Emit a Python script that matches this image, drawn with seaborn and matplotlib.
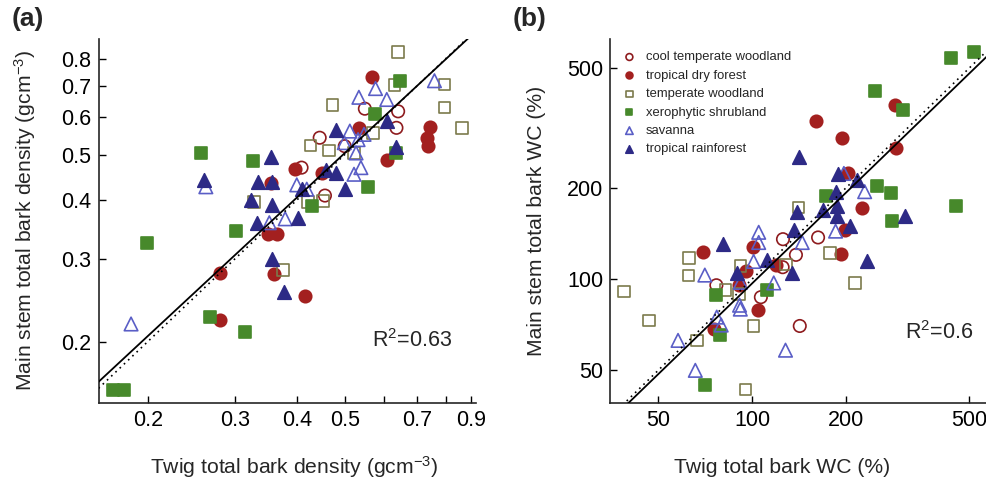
import numpy as np
import pandas as pd
import seaborn as sns
import matplotlib
matplotlib.use('Agg')
from matplotlib import pyplot as plt
from matplotlib.ticker import FixedLocator, FixedFormatter, NullLocator

biomes = ['cool temperate woodland', 'tropical dry forest', 'temperate woodland',
          'xerophytic shrubland', 'savanna', 'tropical rainforest']

'### (a) bark density (gcm-3): twig vs main stem ###'
dens_twig_ctw = [0.549, 0.641, 0.636, 0.445, 0.500, 0.409, 0.456]
dens_stem_ctw = [0.626, 0.618, 0.570, 0.543, 0.521, 0.469, 0.409]
dens_twig_tdf = [0.568, 0.534, 0.743, 0.732, 0.735, 0.608, 0.397, 0.449, 0.354, 0.350, 0.364, 0.360, 0.280, 0.280, 0.415]
dens_stem_tdf = [0.730, 0.570, 0.573, 0.541, 0.521, 0.488, 0.467, 0.457, 0.436, 0.338, 0.338, 0.278, 0.280, 0.222, 0.250]
dens_twig_tw = [0.641, 0.630, 0.795, 0.472, 0.795, 0.571, 0.863, 0.426, 0.465, 0.522, 0.422, 0.452, 0.328, 0.375]
dens_stem_tw = [0.826, 0.703, 0.705, 0.638, 0.630, 0.556, 0.570, 0.523, 0.510, 0.504, 0.396, 0.398, 0.396, 0.284]
dens_twig_xs = [0.648, 0.575, 0.636, 0.556, 0.430, 0.256, 0.326, 0.199, 0.302, 0.267, 0.314, 0.170, 0.179]
dens_stem_xs = [0.717, 0.611, 0.504, 0.427, 0.389, 0.503, 0.484, 0.324, 0.344, 0.226, 0.210, 0.158, 0.158]
dens_twig_sav = [0.759, 0.577, 0.534, 0.608, 0.512, 0.547, 0.532, 0.499, 0.527, 0.539, 0.522, 0.400, 0.419, 0.379, 0.262, 0.352, 0.185]
dens_stem_sav = [0.718, 0.691, 0.662, 0.655, 0.561, 0.552, 0.538, 0.530, 0.504, 0.469, 0.454, 0.431, 0.422, 0.365, 0.427, 0.358, 0.218]
dens_twig_trf = [0.608, 0.479, 0.634, 0.459, 0.481, 0.501, 0.409, 0.354, 0.260, 0.334, 0.357, 0.324, 0.356, 0.403, 0.332, 0.356, 0.377]
dens_stem_trf = [0.589, 0.563, 0.520, 0.463, 0.456, 0.422, 0.422, 0.493, 0.441, 0.438, 0.438, 0.401, 0.390, 0.366, 0.358, 0.299, 0.255]

'### (b) bark water content (%): twig vs main stem ###'
wc_twig_ctw = [125.8, 163.2, 138.5, 125.5, 76.8, 106.8, 142.5]
wc_stem_ctw = [135.7, 137.5, 120.4, 109.6, 95.5, 87.2, 70.0]
wc_twig_tdf = [161.3, 287.9, 195.3, 290.1, 204.2, 226.5, 198.6, 192.8, 100.8, 69.5, 119.8, 95.8, 90.8, 104.5, 75.7]
wc_stem_tdf = [333, 377, 292.5, 273, 224.5, 172, 145.4, 121, 128, 122.6, 111.8, 106.4, 95.5, 79.1, 68.2]
wc_twig_tw = [141.1, 178.1, 214.4, 128.7, 91.8, 62.8, 62.5, 82.1, 90.9, 38.7, 46.7, 101.2, 66.5, 95.4]
wc_stem_tw = [173, 122.4, 97.1, 111.8, 110.8, 117.4, 103, 92.2, 89.5, 91.1, 73, 69.9, 62.6, 43.1]
wc_twig_xs = [436.5, 516.5, 248.2, 305.6, 251.9, 279.5, 172.5, 453, 283, 111.7, 76.8, 79.1, 70.6]
wc_stem_xs = [539.5, 566, 420.5, 364, 204, 193, 189, 175, 156, 92.2, 88.7, 65.3, 44.7]
wc_twig_sav = [197.6, 230.5, 185.8, 145.1, 105.1, 105.1, 101.2, 117.5, 70.5, 91.7, 91.2, 91.7, 77.0, 79.6, 57.8, 128.2, 65.7]
wc_stem_sav = [224, 195, 144.3, 132.3, 143, 132.3, 114.5, 97.2, 103.2, 97.6, 82, 79.6, 74.9, 70.5, 62.7, 58.2, 49.9]
wc_twig_trf = [141.9, 189, 217.2, 185.8, 187.8, 187.8, 169.3, 206.1, 233.9, 310.1, 139.8, 136.7, 134.7, 111.5, 89.8, 80.6]
wc_stem_trf = [254, 223, 213, 195, 175, 162, 170, 150, 115, 161.5, 166.4, 145.4, 104.5, 115.9, 104.7, 130.7]

# axis ticks
dens_ticks_x = [0.2, 0.3, 0.4, 0.5, 0.6, 0.7, 0.8, 0.9]
dens_labels_x = ['0.2', '0.3', '0.4', '0.5', '', '0.7', '', '0.9']
dens_ticks_y = [0.2, 0.3, 0.4, 0.5, 0.6, 0.7, 0.8]
dens_labels_y = ['0.2', '0.3', '0.4', '0.5', '0.6', '0.7', '0.8']
wc_ticks = [50, 100, 200, 500]
wc_labels = ['50', '100', '200', '500']

colors = {'cool temperate woodland': '#8E1B1E', 'tropical dry forest': '#A3201F',
          'temperate woodland': '#7C7A4C', 'xerophytic shrubland': '#47892B',
          'savanna': '#5A5EC6', 'tropical rainforest': '#2D2A86'}
markers = {'cool temperate woodland': 'o', 'tropical dry forest': 'o', 'temperate woodland': 's',
           'xerophytic shrubland': 's', 'savanna': '^', 'tropical rainforest': '^'}
sizes = {'o': 80, 's': 70, '^': 95}
open_biomes = ['cool temperate woodland', 'temperate woodland', 'savanna']


def make_df(xs, ys):
    parts = []
    for b, x, y in zip(biomes, xs, ys):
        parts.append(pd.DataFrame({'twig': x, 'stem': y, 'biome': b}))
    return pd.concat(parts, ignore_index=True)


df_dens = make_df([dens_twig_ctw, dens_twig_tdf, dens_twig_tw, dens_twig_xs, dens_twig_sav, dens_twig_trf],
                  [dens_stem_ctw, dens_stem_tdf, dens_stem_tw, dens_stem_xs, dens_stem_sav, dens_stem_trf])
df_wc = make_df([wc_twig_ctw, wc_twig_tdf, wc_twig_tw, wc_twig_xs, wc_twig_sav, wc_twig_trf],
                [wc_stem_ctw, wc_stem_tdf, wc_stem_tw, wc_stem_xs, wc_stem_sav, wc_stem_trf])

sns.set_style('ticks')
plt.rcParams['font.family'] = ['Liberation Sans', 'DejaVu Sans']
plt.rcParams['mathtext.fontset'] = 'custom'
plt.rcParams['mathtext.rm'] = 'Liberation Sans'
plt.rcParams['mathtext.it'] = 'Liberation Sans:italic'
plt.rcParams['mathtext.bf'] = 'Liberation Sans:bold'


def sma_fit(df):
    # standardised major axis on log10 data
    lx, ly = np.log10(df['twig']), np.log10(df['stem'])
    r = np.corrcoef(lx, ly)[0, 1]
    slope = np.sign(r) * ly.std() / lx.std()
    return slope, ly.mean() - slope * lx.mean()


def draw_panel(ax, df, xlim, ylim):
    for b in biomes:
        sub = df[df['biome'] == b]
        m = markers[b]
        sns.scatterplot(data=sub, x='twig', y='stem', marker=m, s=sizes[m], color=colors[b],
                        edgecolor=colors[b], linewidth=1.2, label=b, ax=ax, legend=False, zorder=2)
        if b in open_biomes:
            ax.collections[-1].set_facecolor('none')
    ax.set_xscale('log')
    ax.set_yscale('log')
    slope, icpt = sma_fit(df)
    xs = np.geomspace(xlim[0], xlim[1], 50)
    ax.plot(xs, 10 ** icpt * xs ** slope, color='black', lw=1.3, zorder=3)
    ax.plot(xs, xs, color='black', lw=1.2, ls=(0, (1, 2.5)), zorder=3)
    ax.set_xlim(xlim)
    ax.set_ylim(ylim)
    sns.despine(ax=ax)
    for s in ['left', 'bottom']:
        ax.spines[s].set_linewidth(1.2)
    ax.tick_params(direction='in', length=5, width=1, labelsize=15.5, pad=5, colors='black')
    ax.xaxis.set_minor_locator(NullLocator())
    ax.yaxis.set_minor_locator(NullLocator())


fig = plt.figure(figsize=(9.87, 4.82), dpi=100)
ax_a = fig.add_axes([0.0998, 0.1639, 0.3825, 0.7562])
ax_b = fig.add_axes([0.618, 0.1639, 0.3825, 0.7562])

draw_panel(ax_a, df_dens, (0.159, 0.921), (0.148, 0.883))
ax_a.xaxis.set_major_locator(FixedLocator(dens_ticks_x))
ax_a.xaxis.set_major_formatter(FixedFormatter(dens_labels_x))
ax_a.yaxis.set_major_locator(FixedLocator(dens_ticks_y))
ax_a.yaxis.set_major_formatter(FixedFormatter(dens_labels_y))
ax_a.set_xlabel('Twig total bark density (gcm$^{-3}$)', fontsize=15.2)
ax_a.set_ylabel('Main stem total bark density (gcm$^{-3}$)', fontsize=15.2)
ax_a.text(0.725, 0.172, 'R$^2$=0.63', transform=ax_a.transAxes, fontsize=15.5, va='center')

draw_panel(ax_b, df_wc, (34.9, 572.9), (38.9, 627))
ax_b.xaxis.set_major_locator(FixedLocator(wc_ticks))
ax_b.xaxis.set_major_formatter(FixedFormatter(wc_labels))
ax_b.yaxis.set_major_locator(FixedLocator(wc_ticks))
ax_b.yaxis.set_major_formatter(FixedFormatter(wc_labels))
ax_b.set_xlabel('Twig total bark WC (%)', fontsize=15.2)
ax_b.set_ylabel('Main stem total bark WC (%)', fontsize=15.2)
ax_b.text(0.781, 0.192, 'R$^2$=0.6', transform=ax_b.transAxes, fontsize=15.5, va='center')
ax_b.legend(loc='upper left', bbox_to_anchor=(0.01, 0.99), frameon=False, fontsize=9.4,
            markerscale=0.55, handlelength=1.0, handletextpad=0.75, labelspacing=0.48, borderpad=0.2)

for ax in [ax_a, ax_b]:
    ax.xaxis.label.set_va('center')
    ax.yaxis.label.set_va('center')
    ax.yaxis.set_label_coords(-0.195, 0.5)
ax_a.xaxis.set_label_coords(0.518, -0.176)
ax_b.xaxis.set_label_coords(0.455, -0.176)

fig.text(12 / 987, 1 - 19 / 482, '(a)', fontsize=19, fontweight='bold', va='center', ha='left')
fig.text(513 / 987, 1 - 19 / 482, '(b)', fontsize=19, fontweight='bold', va='center', ha='left')

plt.savefig('out.png', dpi=100)
